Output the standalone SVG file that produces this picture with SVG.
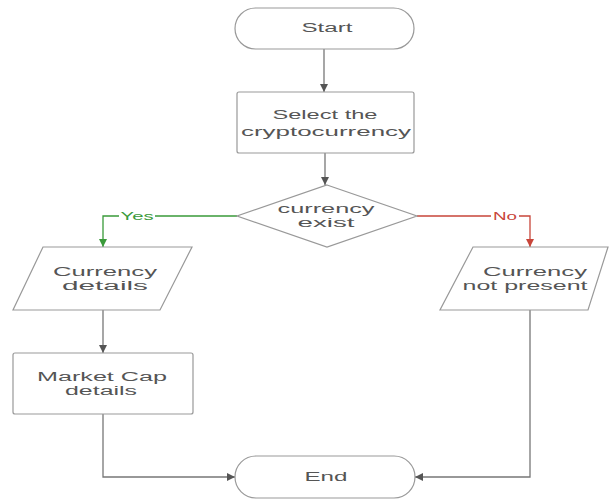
<svg xmlns="http://www.w3.org/2000/svg" width="609" height="500" viewBox="0 0 609 500">
<defs>
<style>
.shape{fill:#fff;stroke:#999;stroke-width:1.2}
.t{font-family:"Liberation Sans",Arial,sans-serif;font-size:12px;fill:#555;text-anchor:middle}
.c{fill:none;stroke:#777;stroke-width:1.3}
.yes{stroke:#3a9a3a}
.no{stroke:#c8453a}
.lbl{font-family:"Liberation Sans",Arial,sans-serif;font-size:11px;text-anchor:middle}
</style>
<marker id="ah" markerUnits="userSpaceOnUse" markerWidth="10" markerHeight="8" refX="8" refY="4" orient="auto"><path d="M0,0L8,4L0,8z" fill="#555"/></marker>
<marker id="ahg" markerUnits="userSpaceOnUse" markerWidth="10" markerHeight="8" refX="8" refY="4" orient="auto"><path d="M0,0L8,4L0,8z" fill="#3a9a3a"/></marker>
<marker id="ahr" markerUnits="userSpaceOnUse" markerWidth="10" markerHeight="8" refX="8" refY="4" orient="auto"><path d="M0,0L8,4L0,8z" fill="#c8453a"/></marker>
</defs>
<rect width="609" height="500" fill="#fff"/>
<g id="connectors">
<path class="c" d="M324,49V92" marker-end="url(#ah)"/>
<path class="c" d="M325,153V185" marker-end="url(#ah)"/>
<path class="c yes" d="M237,216H103V247" marker-end="url(#ahg)"/>
<path class="c no" d="M417,216H530V247" marker-end="url(#ahr)"/>
<path class="c" d="M103,310V353" marker-end="url(#ah)"/>
<path class="c" d="M103,414V477H235" marker-end="url(#ah)"/>
<path class="c" d="M530,310V477H415" stroke="#bbb" stroke-width="2.5" marker-end="url(#ah)"/>
<rect x="119" y="210" width="36" height="12" fill="#fff"/>
<text class="lbl" x="137" y="220" fill="#3a9a3a" textLength="33" lengthAdjust="spacingAndGlyphs">Yes</text>
<rect x="491" y="210" width="28" height="12" fill="#fff"/>
<text class="lbl" x="505" y="220" fill="#c8453a" textLength="24" lengthAdjust="spacingAndGlyphs">No</text>
</g>
<g id="start">
<rect class="shape" x="235" y="8" width="179" height="41" rx="20.5"/>
<text class="t" x="327" y="32" textLength="51" lengthAdjust="spacingAndGlyphs">Start</text>
</g>
<g id="select">
<rect class="shape" x="237" y="92" width="177" height="61" rx="2"/>
<text class="t" x="325" y="119" textLength="105" lengthAdjust="spacingAndGlyphs">Select the</text>
<text class="t" x="326" y="136" textLength="170" lengthAdjust="spacingAndGlyphs">cryptocurrency</text>
</g>
<g id="decision">
<polygon class="shape" points="327,185 417,216 327,247 237,216"/>
<text class="t" x="326" y="213" textLength="97" lengthAdjust="spacingAndGlyphs">currency</text>
<text class="t" x="326" y="227" textLength="57" lengthAdjust="spacingAndGlyphs">exist</text>
</g>
<g id="currency-details">
<polygon class="shape" points="43,247 192,247 160,310 13,310"/>
<text class="t" x="105" y="276" textLength="104" lengthAdjust="spacingAndGlyphs">Currency</text>
<text class="t" x="105" y="290" textLength="86" lengthAdjust="spacingAndGlyphs">details</text>
</g>
<g id="market-cap">
<rect class="shape" x="13" y="353" width="180" height="61" rx="2"/>
<text class="t" x="102" y="381" textLength="130" lengthAdjust="spacingAndGlyphs">Market Cap</text>
<text class="t" x="101" y="395" textLength="72" lengthAdjust="spacingAndGlyphs">details</text>
</g>
<g id="not-present">
<polygon class="shape" points="473,247 608,247 588,310 440,310"/>
<text class="t" x="535" y="276" textLength="104" lengthAdjust="spacingAndGlyphs">Currency</text>
<text class="t" x="525" y="290" textLength="125" lengthAdjust="spacingAndGlyphs">not present</text>
</g>
<g id="end">
<rect class="shape" x="235" y="456" width="180" height="42" rx="21"/>
<text class="t" x="326" y="481" textLength="43" lengthAdjust="spacingAndGlyphs">End</text>
</g>
</svg>
